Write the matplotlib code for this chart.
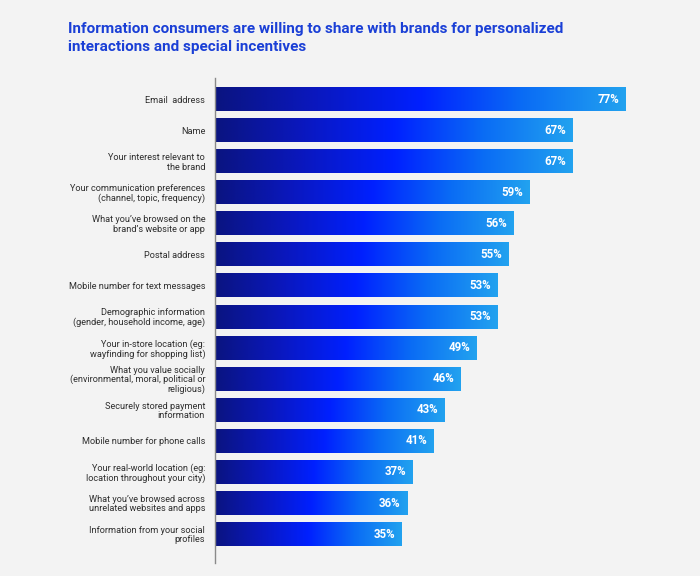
import numpy as np
import matplotlib.pyplot as plt
from matplotlib.colors import LinearSegmentedColormap

categories = [
    "Email  address",
    "Name",
    "Your interest relevant to\nthe brand",
    "Your communication preferences\n(channel, topic, frequency)",
    "What you\u2019ve browsed on the\nbrand\u2019s website or app",
    "Postal address",
    "Mobile number for text messages",
    "Demographic information\n(gender, household income, age)",
    "Your in-store location (eg:\nwayfinding for shopping list)",
    "What you value socially\n(environmental, moral, political or\nreligious)",
    "Securely stored payment\ninformation",
    "Mobile number for phone calls",
    "Your real-world location (eg:\nlocation throughout your city)",
    "What you\u2019ve browsed across\nunrelated websites and apps",
    "Information from your social\nprofiles",
]
values = [77, 67, 67, 59, 56, 55, 53, 53, 49, 46, 43, 41, 37, 36, 35]

title = ("Information consumers are willing to share with brands for personalized\n"
         "interactions and special incentives")

bg = "#f3f3f3"
cmap = LinearSegmentedColormap.from_list(
    "bar", ["#0a1480", "#0a18c0", "#0020ff", "#0a6cf5", "#22a2ef"])
grad = np.linspace(0, 1, 256).reshape(1, -1)

plt.rcParams['font.family'] = ['Roboto', 'DejaVu Sans']

fig = plt.figure(figsize=(7, 5.76), dpi=100, facecolor=bg)
ax = fig.add_axes([0.307, 0.0226, 0.61, 0.842])
ax.set_facecolor(bg)

bar_h = 0.77
for i, (cat, v) in enumerate(zip(categories, values)):
    ax.imshow(grad, cmap=cmap, aspect='auto', interpolation='bilinear',
              extent=(0, v, i + bar_h / 2, i - bar_h / 2), zorder=2)
    ax.text(v - 1.2, i, f"{v}%", color="white", fontsize=8.3,
            fontweight='bold', ha='right', va='center', zorder=3)

ax.set_xlim(0, 80)
ax.set_ylim(14.93, -0.68)
ax.set_yticks(range(len(categories)))
ax.set_yticklabels(categories, fontsize=6.6, color="#2e2e2e", linespacing=1.05)
ax.tick_params(axis='y', length=0, pad=7)
ax.set_xticks([])
for s in ['top', 'right', 'bottom']:
    ax.spines[s].set_visible(False)
ax.spines['left'].set_color("#8a8a8a")
ax.spines['left'].set_linewidth(1)

fig.text(0.097, 0.962, title, fontsize=11, fontweight='bold', color="#1a3fd6",
         ha='left', va='top', linespacing=1.35)

plt.savefig("out.png", dpi=100, facecolor=bg)
